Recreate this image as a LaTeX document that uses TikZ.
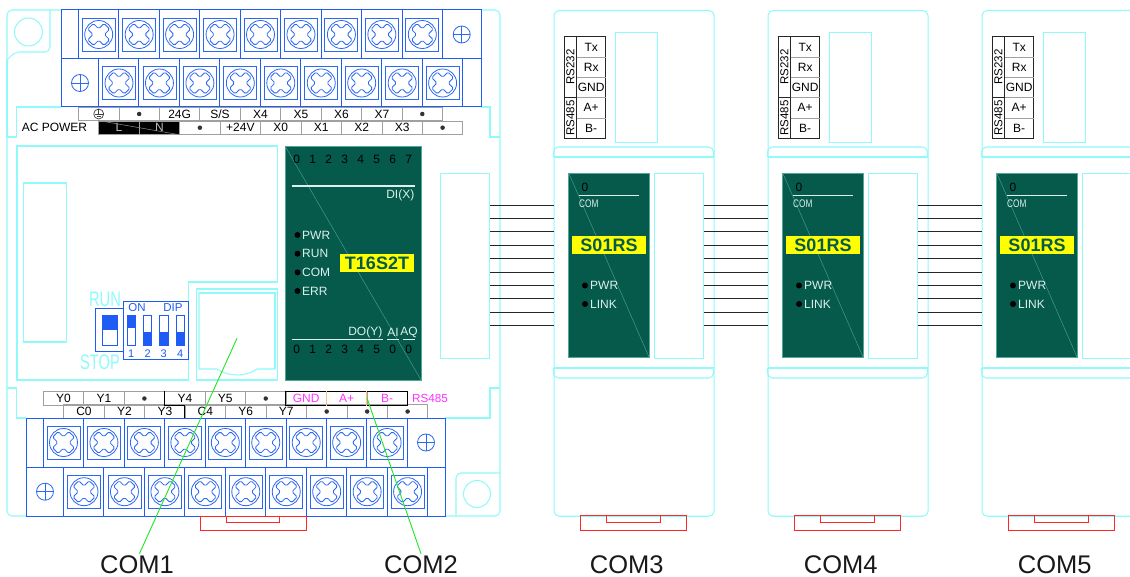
\documentclass[tikz,border=0pt]{standalone}
\usepackage{fontspec}
\setmainfont{Liberation Sans}
\usepackage{xcolor}
\usepackage{tikz}
\usetikzlibrary{calc}

\definecolor{caseline}{HTML}{90FAFA}
\definecolor{termblue}{HTML}{1F5BF5}
\definecolor{screwline}{HTML}{2A68F5}
\definecolor{panelgreen}{HTML}{055A4C}
\definecolor{paneledge}{HTML}{4FA598}
\definecolor{paneltext}{HTML}{DDF0EC}
\definecolor{stripgrey}{HTML}{A0A0A0}
\definecolor{leadgreen}{HTML}{22E622}
\definecolor{rsmagenta}{HTML}{FF33FF}
\definecolor{modelyellow}{HTML}{FFFF00}

\tikzset{
    outline/.style={draw=caseline, line width=1.05pt},
    slotbox/.style={outline, rectangle, inner sep=0pt, anchor=north west},
    termline/.style={draw=termblue, line width=1pt},
    cell/.style={draw=stripgrey, line width=0.8pt, rectangle, inner sep=0pt, minimum width=40.5pt, minimum height=13.5pt, font=\fontsize{12}{12}\selectfont},
    bullet/.style={circle, fill=black!80, inner sep=0pt, minimum size=4.5pt},
    led/.style={circle, fill=black, inner sep=0pt, minimum size=6pt},
    paneltxt/.style={text=paneltext, inner sep=0pt, font=\fontsize{12}{12}\selectfont},
    digit/.style={text=black, inner sep=0pt, font=\fontsize{12}{12}\selectfont},
    modelbox/.style={fill=modelyellow, text=panelgreen, inner sep=0pt, minimum width=74pt, minimum height=18pt, font=\bfseries\fontsize{18}{18}\selectfont},
    portname/.style={text=black!90, inner sep=2pt, font=\fontsize{25.5}{26}\selectfont},
    bigcyan/.style={text=caseline, inner sep=0pt, xscale=0.7, transform shape, font=\fontsize{21}{21}\selectfont},
    dipnum/.style={text=termblue, inner sep=0pt, font=\fontsize{11}{11}\selectfont},
    bus/.style={draw=black!85, line width=0.9pt},
    leader/.style={draw=leadgreen, line width=0.9pt},
    latch/.style={draw=red!85!white, line width=0.9pt},
    screw/.pic={
        \draw[screwline, line width=0.9pt] (-16.5,-16.5) rectangle (16.5,16.5);
        \draw[screwline, line width=0.8pt] (0,0) circle (14);
        \draw[screwline, line width=0.8pt, rotate=45, rounded corners=1.5pt] (-4,-4) -- (-4,-11.5) -- (4,-11.5) -- (4,-4) -- (11.5,-4) -- (11.5,4) -- (4,4) -- (4,11.5) -- (-4,11.5) -- (-4,4) -- (-11.5,4) -- (-11.5,-4) -- cycle;
    },
    mark/.pic={
        \draw[screwline, line width=0.8pt] (0,0) circle (8.5);
        \draw[screwline, line width=0.8pt] (-8.5,0) -- (8.5,0) (0,-8.5) -- (0,8.5);
    }
}

\begin{document}
\begin{tikzpicture}[x=1pt, y=-1pt]
    \clip (0,0) rectangle (1130,577);
    \fill[white] (0,0) rectangle (1130,577);

    % controller case
    \draw[outline, rounded corners=5pt] (61,10) -- (7,10) -- (7,60);
    \draw[outline, rounded corners=5pt] (50,10) -- (50,52) -- (15,52) -- (7,60);
    \draw[outline] (7,60) -- (7,137);
    \draw[outline] (61,107) -- (16.7,107) -- (16.7,137) -- (7,137);
    \draw[outline, rounded corners=5pt] (7,137) -- (7,516) -- (26,516);
    \draw[outline] (7,388) -- (16.7,388) -- (16.7,418) -- (26,418);
    \draw[outline, rounded corners=5pt] (481,10) -- (500,10) -- (500,137);
    \draw[outline] (481,107) -- (490,107) -- (490,137) -- (500,137);
    \draw[outline, rounded corners=5pt] (500,137) -- (500,516) -- (445,516);
    \draw[outline] (445,418) -- (490,418) -- (490,388) -- (500,388);
    \draw[outline, rounded corners=5pt] (500,473) -- (456,473) -- (456,516);
    \draw[outline] (28.5,32) circle (14);
    \draw[outline] (477,494) circle (13.5);

    % inner panel and battery cover
    \draw[outline] (17,146) -- (277.7,146) -- (277.7,282) -- (188.5,282) -- (188.5,380) -- (17,380) -- cycle;
    \draw[outline] (23.3,183) rectangle (66.7,342);
    \draw[outline] (196.7,289) rectangle (277.7,380);
    \draw[outline] (199,293) -- (275,293) -- (275,369);
    \draw[outline] (199,293) -- (199,369) -- (217,369) .. controls (228,377) and (246,377) .. (257,369) -- (275,369);

    % top terminal block
    \draw[termline] (61,10) rectangle (481,107);
    \draw[termline] (61,59) -- (481,59);
    \foreach \i in {0,...,9} {
        \draw[termline] (78.5+40.45*\i,10) -- (78.5+40.45*\i,59);
        \draw[termline] (98.5+40.45*\i,59) -- (98.5+40.45*\i,107);
    }
    \foreach \i in {0,...,8} {
        \pic at (98.7+40.45*\i,34.5) {screw};
        \pic at (119+40.45*\i,83) {screw};
    }
    \pic at (461.7,34.5) {mark};
    \pic at (80,83) {mark};

    % top strips
    \foreach \t [count=\i from 0] in {,,24G,S/S,X4,X5,X6,X7,} {
        \node[cell] (up\i) at (98.7+40.45*\i,114) {\t};
    }
    \node[bullet] (upa) at (up1) {};
    \node[bullet] (upb) at (up8) {};
    \draw[black!75, line width=0.7pt] (up0) circle (5);
    \draw[black!75, line width=0.7pt] (up0) ++(0,-5) -- ++(0,5) ++(-4,0) -- ++(8,0) ++(-6,2) -- ++(4,0);
    \foreach \t [count=\i from 0] in {,,,+24V,X0,X1,X2,X3,} {
        \node[cell] (lo\i) at (119+40.45*\i,127.7) {\t};
    }
    \node[bullet] (loa) at (lo2) {};
    \node[bullet] (lob) at (lo8) {};
    \node[cell, fill=black, text=white!75!black] (powL) at (lo0) {L};
    \node[cell, fill=black, text=white!75!black] (powN) at (lo1) {N};
    \draw[black!45, line width=0.5pt] (powL.north west) -- (powN.south east);
    \node[inner sep=0pt, font=\fontsize{12}{12}\selectfont] (acpower) at (54.5,127.5) {AC POWER};

    % run switch
    \node[bigcyan] (run) at (105,299) {RUN};
    \node[bigcyan] (stop) at (100,362) {STOP};
    \draw[termline] (95.7,309) rectangle (123,351.7);
    \draw[termblue, fill=termblue] (102,315.5) rectangle (117,329.3);
    \draw[termblue, line width=0.8pt] (102,315.5) rectangle (117,345);
    \draw[termline, fill=white] (123,301.5) rectangle (188.5,359.5);
    \node[dipnum, font=\fontsize{11.5}{12}\selectfont] (dipon) at (137,308) {ON};
    \node[dipnum, font=\fontsize{11.5}{12}\selectfont] (dipname) at (173,308) {DIP};
    \foreach \x [count=\n] in {127,143.3,159.5,176} {
        \draw[termblue, line width=0.8pt] (\x,315.5) rectangle (\x+8.5,345);
        \node[dipnum] (dip\n) at (\x+4.3,353.5) {\n};
    }
    \fill[termblue] (127,315.5) rectangle (135.5,328.5);
    \foreach \x in {143.3,159.5,176} {
        \fill[termblue] (\x,332.5) rectangle (\x+8.5,345);
    }

    % controller face
    \draw[draw=paneledge, fill=panelgreen, line width=0.9pt] (285,146) rectangle (421,380);
    \draw[paneledge, line width=0.4pt] (285,146) -- (421,380);
    \foreach \n in {0,...,7} {
        \node[digit] (dix\n) at (296.7+16*\n,159) {\n};
    }
    \foreach \n/\x in {0/0,1/1,2/2,3/3,4/4,5/5,0/6,0/7} {
        \node[digit] (doy\x) at (296.7+16*\x,349) {\n};
    }
    \draw[paneltext, line width=1.1pt] (291.7,186) -- (414.5,186);
    \node[paneltxt, anchor=east] (dilabel) at (414.5,195) {DI(X)};
    \foreach \t/\y [count=\i] in {PWR/235,RUN/253.7,COM/272.3,ERR/291} {
        \node[led] (ledm\i) at (297.5,\y) {};
        \node[paneltxt, anchor=west] (labm\i) at (302,\y) {\t};
    }
    \node[modelbox] (t16) at (377,263) {T16S2T};
    \draw[paneltext, line width=1.1pt] (291.7,339.5) -- (383,339.5) (387,339.5) -- (399,339.5) (403,339.5) -- (414.5,339.5);
    \node[paneltxt, anchor=east] (dolabel) at (382.5,332) {DO(Y)};
    \node[paneltxt] (ailabel) at (393,332) {AI};
    \node[paneltxt] (aqlabel) at (409,332) {AQ};
    \node[slotbox, minimum width=48.7pt, minimum height=185pt] (slot0) at (440.3,173) {};

    % bottom strips
    \foreach \t [count=\i from 0] in {Y0,Y1,,Y4,Y5,,,,} {
        \node[cell] (ya\i) at (63.5+40.45*\i,398.5) {\t};
    }
    \foreach \t [count=\i from 0] in {C0,Y2,Y3,C4,Y6,Y7,,,} {
        \node[cell] (yb\i) at (84+40.45*\i,411.5) {\t};
    }
    \node[bullet] (yaa) at (ya2) {};
    \node[bullet] (yab) at (ya5) {};
    \foreach \i in {6,7,8} {
        \node[bullet] (ybd\i) at (yb\i) {};
    }
    \draw[draw=black, line width=1.4pt] (ya3.north west) -- (ya3.south west) -- (yb3.north west |- ya3.south west) -- (yb3.south west);
    \draw[draw=black, line width=1.4pt] (ya6.north west) rectangle (ya8.south east);
    \foreach \t/\i in {GND/6,A+/7,B-/8} {
        \node[text=rsmagenta, inner sep=0pt, font=\fontsize{12}{12}\selectfont] (rs\i) at (ya\i) {\t};
    }
    \draw[orange!50!white, line width=0.7pt] (ya7.north west) -- (ya7.south west) (ya8.north west) -- (ya8.south west);
    \node[text=rsmagenta, inner sep=0pt, anchor=west, font=\fontsize{11.7}{12}\selectfont] (rsname) at (412,398) {RS485};

    % bottom terminal block
    \draw[termline] (26,418) rectangle (445,516);
    \draw[termline] (26,467) -- (445,467);
    \foreach \i in {0,...,9} {
        \draw[termline] (43.3+40.45*\i,418) -- (43.3+40.45*\i,467);
        \draw[termline] (63.3+40.5*\i,467) -- (63.3+40.5*\i,516);
    }
    \foreach \i in {0,...,8} {
        \pic at (63.5+40.45*\i,442.5) {screw};
        \pic at (84+40.45*\i,491.7) {screw};
    }
    \pic at (426,442.5) {mark};
    \pic at (45,491.7) {mark};

    \draw[latch] (200,516) rectangle (306.7,530);
    \draw[latch] (226.7,516) rectangle (279.3,522.3);

    % COM modules
    \foreach \m/\x in {3/0,4/214,5/428} {
        \begin{scope}[xshift=\x pt]
            \node[outline, rectangle, rounded corners=5pt, inner sep=0pt, minimum width=160pt, minimum height=505.7pt, anchor=north west] (mod\m) at (553.5,10) {};
            \draw[outline, rounded corners=5pt] (553.5,157) -- (553.5,147) -- (713.5,147) -- (713.5,157);
            \draw[outline] (553.5,157) -- (713.5,157);
            \draw[outline] (553.5,368) -- (713.5,368);
            \draw[outline, rounded corners=5pt] (553.5,368) -- (553.5,378) -- (713.5,378) -- (713.5,368);

            % terminal table
            \draw[line width=1pt, black!85] (564.3,36.7) rectangle (605.7,138.3);
            \draw[line width=1pt, black!85] (576.7,36.7) -- (576.7,138.3) (564.3,97.7) -- (576.7,97.7);
            \foreach \t/\y [count=\i] in {Tx/47,Rx/67.3,GND/87.5,A+/107.8,B-/128.2} {
                \node[inner sep=0pt, font=\fontsize{12}{12}\selectfont] (tab\m\i) at (591.2,\y) {\t};
            }
            \foreach \y in {57,77.3,97.7,118} {
                \draw[stripgrey, line width=0.8pt] (576.7,\y) -- (605.7,\y);
            }
            \node[rotate=90, inner sep=0pt, font=\fontsize{11.5}{12}\selectfont] (rsa\m) at (570.5,67) {RS232};
            \node[rotate=90, inner sep=0pt, font=\fontsize{11.5}{12}\selectfont] (rsb\m) at (570.5,118) {RS485};
            \node[slotbox, minimum width=42pt, minimum height=110pt] (top\m) at (615.3,32.3) {};

            % module face
            \draw[draw=paneledge, fill=panelgreen, line width=0.9pt] (568.7,173) rectangle (649.3,357.7);
            \draw[paneledge, line width=0.4pt] (568.7,173) -- (649.3,357.7);
            \node[digit] (zero\m) at (585,187) {0};
            \draw[paneltext, line width=1.1pt] (579,195.7) -- (639,195.7);
            \node[paneltxt, anchor=west, xscale=0.75, transform shape, font=\fontsize{11}{11}\selectfont] (com\m) at (579,204) {COM};
            \node[modelbox] (s\m) at (609,245) {S01RS};
            \node[led] (leda\m) at (585,285.5) {};
            \node[paneltxt, anchor=west] (laba\m) at (590,285.5) {PWR};
            \node[led] (ledb\m) at (585,304) {};
            \node[paneltxt, anchor=west] (labb\m) at (590,304) {LINK};
            \node[slotbox, minimum width=48.4pt, minimum height=185pt] (slot\m) at (654.3,173) {};

            \draw[latch] (580.3,515.7) rectangle (686.7,530.3);
            \draw[latch] (606.7,515.7) rectangle (660,522.3);
            \node[portname] (port\m) at (626.7,565) {COM\m};
        \end{scope}
    }

    % bus lines between the slots
    \foreach \k/\h in {0/3,3/4,4/5} {
        \foreach \i in {0,...,9} {
            \draw[bus] (slot\k.east |- 0,205+13.4*\i) -- (mod\h.west |- 0,205+13.4*\i);
        }
    }

    % leaders
    \node[portname] (port1) at (137,565) {COM1};
    \node[portname] (port2) at (421,565) {COM2};
    \coordinate (tip1) at (237,338.3);
    \coordinate (tip2) at (367,398);
    \draw[leader] (tip1) -- (port1.78);
    \draw[leader] (tip2) -- (port2.north);
\end{tikzpicture}
\end{document}
